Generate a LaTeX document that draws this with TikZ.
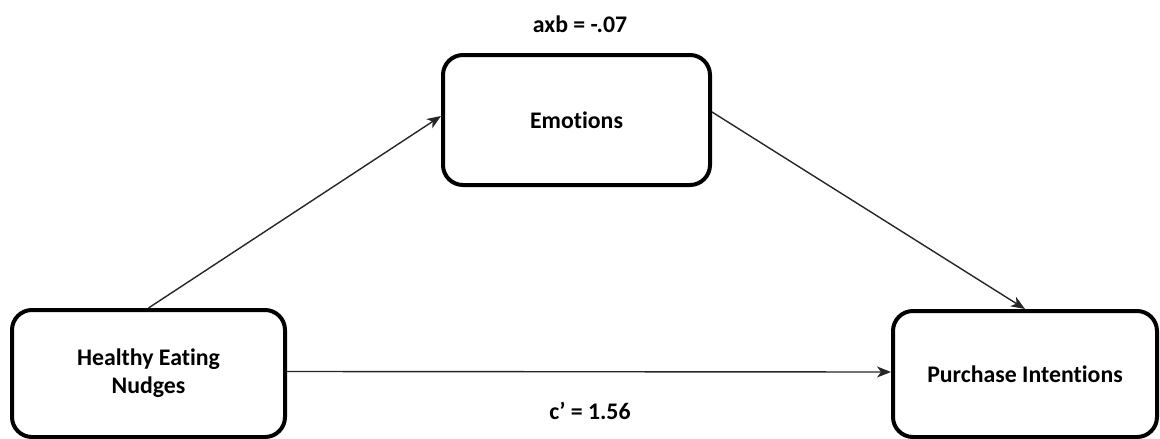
\documentclass[tikz,border=0pt]{standalone}
\usepackage{fontspec}
\setmainfont[Ligatures=NoCommon]{Carlito}
\usetikzlibrary{arrows.meta}
\begin{document}
\begin{tikzpicture}[x=1pt,y=-1pt,
  varbox/.style={draw=black, line width=4pt, rounded corners=20pt, fill=white,
    align=center, font=\fontsize{23.8}{28}\selectfont\bfseries, inner sep=0pt},
  path/.style={draw=black!85, line width=1.4pt, -{Stealth[length=14pt,width=11pt,inset=4pt]}},
  coef/.style={font=\fontsize{23.8}{28}\selectfont\bfseries, inner sep=0pt}]
  \useasboundingbox (0,0) rectangle (1160,439);
  % variables
  \node[varbox, minimum width=267pt, minimum height=130pt] (emo) at (576.5,120) {Emotions};
  \node[varbox, minimum width=273pt, minimum height=127pt] (hen) at (148.5,373.5) {Healthy Eating\\Nudges};
  \node[varbox, minimum width=264pt, minimum height=126pt] (pi) at (1025,374) {Purchase Intentions};
  % coefficients
  \node[coef] (ind) at (580,24) {axb = -.07};
  \node[coef] (dir) at (590,411) {c’ = 1.56};
  % paths
  \draw[path] (hen.north) -- ([yshift=4pt]emo.west);
  \draw[path] ([yshift=8pt]emo.east) -- (pi.north);
  \draw[path] ([yshift=2pt]hen.east) -- ([yshift=2pt]pi.west);
\end{tikzpicture}
\end{document}
